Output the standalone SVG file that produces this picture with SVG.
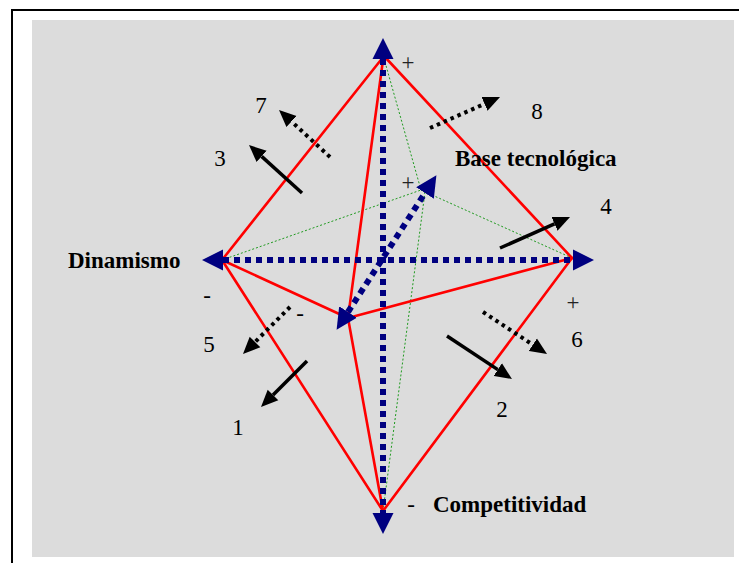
<svg xmlns="http://www.w3.org/2000/svg" width="739" height="563" viewBox="0 0 739 563">
<style>
.red{stroke:#ff0000;stroke-width:2.6;fill:none;stroke-linecap:round}
.grn{stroke:#1f9a1f;stroke-width:1;fill:none;stroke-dasharray:2 2}
.axis{stroke:#000080;stroke-width:6;fill:none;stroke-dasharray:6 5}
.blk{stroke:#000;stroke-width:3.5;fill:none;marker-end:url(#ah)}
.dot{stroke:#000;stroke-width:4;fill:none;stroke-dasharray:3.5 4;marker-end:url(#ah)}
.t{font-family:"Liberation Serif","Times New Roman",serif;font-size:23px;fill:#000}
.b{font-weight:bold}
.m{text-anchor:middle}
.s{fill:#222}
</style>
<defs>
<marker id="nh" markerUnits="userSpaceOnUse" markerWidth="22" markerHeight="22" viewBox="0 -11 22 22" refX="0" refY="0" orient="auto-start-reverse">
<path d="M0,-10.5 L21,0 L0,10.5 z" fill="#000080"/>
</marker>
<marker id="ah" markerUnits="userSpaceOnUse" markerWidth="18" markerHeight="16" viewBox="0 -8 18 16" refX="0" refY="0" orient="auto">
<path d="M0,-7.5 L17,0 L0,7.5 z" fill="#000"/>
</marker>
</defs>
<g id="frame">
<rect x="32" y="20" width="702" height="537" fill="#dcdcdc"/>
<path d="M12,563 V10 H739" fill="none" stroke="#000" stroke-width="2"/>
</g>
<g id="connectors">
<g id="hidden-edges">
<line class="grn" x1="385" y1="62" x2="421" y2="190"/>
<line class="grn" x1="222" y1="260" x2="421" y2="190"/>
<line class="grn" x1="421" y1="190" x2="572" y2="258"/>
<line class="grn" x1="425" y1="192" x2="383" y2="511"/>
</g>
<g id="faces">
<line class="red" x1="384" y1="56" x2="222" y2="260"/>
<line class="red" x1="384" y1="56" x2="572" y2="258"/>
<line class="red" x1="222" y1="260" x2="383" y2="511"/>
<line class="red" x1="572" y1="258" x2="383" y2="511"/>
<line class="red" x1="383" y1="60" x2="348" y2="318"/>
<line class="red" x1="348" y1="318" x2="383" y2="511"/>
<line class="red" x1="222" y1="260" x2="348" y2="318"/>
<line class="red" x1="572" y1="258" x2="348" y2="318"/>
</g>
<g id="axes">
<line class="axis" x1="383" y1="59" x2="383" y2="513" marker-start="url(#nh)" marker-end="url(#nh)"/>
<line class="axis" x1="223" y1="260" x2="573" y2="260" marker-start="url(#nh)" marker-end="url(#nh)"/>
<line class="axis" x1="348" y1="312" x2="425" y2="193" marker-start="url(#nh)" marker-end="url(#nh)"/>
</g>
<g id="arrows">
<line class="blk" x1="302" y1="193" x2="261.6" y2="156.4"/>
<line class="dot" x1="330" y1="157" x2="291.5" y2="121.5"/>
<line class="dot" x1="430" y1="128" x2="484.5" y2="103.9"/>
<line class="blk" x1="500" y1="248" x2="554.5" y2="223.9"/>
<line class="dot" x1="483" y1="312" x2="532.8" y2="344.7"/>
<line class="blk" x1="447" y1="336" x2="497.8" y2="369.6"/>
<line class="dot" x1="290" y1="307" x2="255" y2="342"/>
<line class="blk" x1="307" y1="361" x2="273" y2="395"/>
</g>
</g>
<g id="node-dinamismo"><text class="t b" x="68" y="268">Dinamismo</text></g>
<g id="node-base"><text class="t b" x="455" y="166">Base tecnológica</text></g>
<g id="node-competitividad"><text class="t b" x="433" y="512">Competitividad</text></g>
<g id="signs">
<text class="t m s" x="408" y="70">+</text>
<text class="t m s" x="408" y="190">+</text>
<text class="t m s" x="573" y="310">+</text>
<text class="t m" x="207" y="303">-</text>
<text class="t m" x="300" y="321">-</text>
<text class="t m" x="411" y="512">-</text>
</g>
<g id="numbers">
<text class="t m" x="261" y="113">7</text>
<text class="t m" x="220" y="166">3</text>
<text class="t m" x="537" y="119">8</text>
<text class="t m" x="606" y="214">4</text>
<text class="t m" x="577" y="347">6</text>
<text class="t m" x="502" y="417">2</text>
<text class="t m" x="209" y="352">5</text>
<text class="t m" x="238" y="435">1</text>
</g>
</svg>
